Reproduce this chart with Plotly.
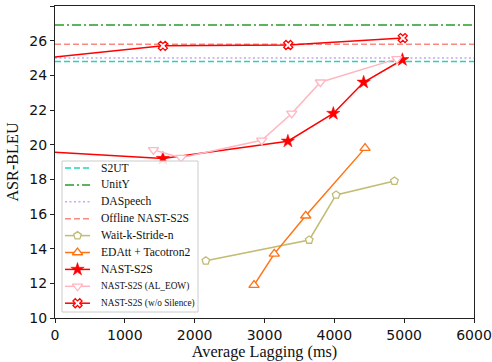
import plotly.graph_objects as go

# Reference (offline / non-streaming) baselines
s2ut_bleu = 24.8
unity_bleu = 26.9
daspeech_bleu = 25.0
offline_nast_bleu = 25.8

# Streaming systems
waitk_al = [2160, 3640, 4025, 4860]
waitk_bleu = [13.3, 14.5, 17.1, 17.9]

edatt_al = [2850, 3140, 3590, 4440]
edatt_bleu = [11.9, 13.7, 15.9, 19.8]

nast_al = [-400, 1545, 3335, 3985, 4420, 4975]
nast_bleu = [19.65, 19.2, 20.2, 21.8, 23.6, 24.9]

eow_al = [1410, 1805, 2960, 3390, 3800, 4895]
eow_bleu = [19.7, 19.25, 20.25, 21.8, 23.6, 24.95]

nosil_al = [-400, 1545, 3340, 4980]
nosil_bleu = [24.9, 25.7, 25.75, 26.15]

x_ticks = [0, 1000, 2000, 3000, 4000, 5000, 6000]
y_ticks = [10, 12, 14, 16, 18, 20, 22, 24, 26, 28]

x_range = [0, 6000]

SERIF = "Liberation Serif, Times New Roman, Times, serif"

# ---- styles ----
def line_style(color, dash="solid"):
    return dict(color=color, width=1.5, dash=dash)

series = [
    # name, x, y, line, marker, legend font size
    ("S2UT", x_range, [s2ut_bleu] * 2, line_style("#20d8b4", "6px,3px"), None, 11.6),
    ("UnitY", x_range, [unity_bleu] * 2, line_style("#2a9a2a", "9px,3px,2px,3px"), None, 11.6),
    ("DASpeech", x_range, [daspeech_bleu] * 2, line_style("#c9a6f5", "2px,2.5px"), None, 11.6),
    ("Offline NAST-S2S", x_range, [offline_nast_bleu] * 2, line_style("#fa8a80", "6px,3px"), None, 11.6),
    ("Wait-k-Stride-n", waitk_al, waitk_bleu, line_style("#c2bb72"),
     dict(symbol="pentagon", size=8, color="white", line=dict(color="#c2bb72", width=1.3)), 11.6),
    ("EDAtt + Tacotron2", edatt_al, edatt_bleu, line_style("#ff7315"),
     dict(symbol="triangle-up", size=9, color="white", line=dict(color="#ff7315", width=1.3)), 11.6),
    ("NAST-S2S", nast_al, nast_bleu, line_style("#ff0000"),
     dict(symbol="star", size=10, color="#ff0000", line=dict(color="#ff0000", width=0.5)), 11.6),
    ("NAST-S2S (AL_EOW)", eow_al, eow_bleu, line_style("#ffb6c1"),
     dict(symbol="triangle-down", size=9, color="white", line=dict(color="#ffb6c1", width=1.3)), 9.3),
    ("NAST-S2S (w/o Silence)", nosil_al, nosil_bleu, line_style("#ff0000"),
     dict(symbol="x", size=8, color="white", line=dict(color="#ff0000", width=1.3)), 9.3),
]

fig = go.Figure()

# data traces
for name, xs, ys, ln, mk, _ in series:
    fig.add_trace(go.Scatter(x=xs, y=ys, mode="lines+markers" if mk else "lines",
                             name=name, line=ln, marker=mk, showlegend=False,
                             xaxis="x", yaxis="y"))

# ---- legend drawn on an overlay axis measured in page pixels ----
PLOT_L, PLOT_R, PLOT_T, PLOT_B = 55, 474, 6, 318
BOX_L, BOX_R, BOX_T, BOX_B = 62, 198, 161, 312
ROW0, ROW_STEP = 168, 16.9
H_L, H_R, TXT_X = 65, 90, 98.5

fig.add_trace(go.Scatter(x=[BOX_L, BOX_R, BOX_R, BOX_L, BOX_L],
                         y=[BOX_T, BOX_T, BOX_B, BOX_B, BOX_T],
                         mode="lines", fill="toself", fillcolor="rgba(255,255,255,0.85)",
                         line=dict(color="#cccccc", width=1), hoverinfo="skip",
                         showlegend=False, xaxis="x2", yaxis="y2"))

annotations = []
for i, (name, xs, ys, ln, mk, fsize) in enumerate(series):
    yc = ROW0 + i * ROW_STEP
    fig.add_trace(go.Scatter(x=[H_L, H_R], y=[yc, yc], mode="lines", line=ln,
                             hoverinfo="skip", showlegend=False, xaxis="x2", yaxis="y2"))
    if mk:
        fig.add_trace(go.Scatter(x=[(H_L + H_R) / 2], y=[yc], mode="markers", marker=mk,
                                 hoverinfo="skip", showlegend=False, xaxis="x2", yaxis="y2"))
    annotations.append(dict(x=TXT_X, y=yc, xref="x2", yref="y2", text=name,
                            showarrow=False, xanchor="left", yanchor="middle",
                            font=dict(family=SERIF, size=fsize, color="#111")))

axis_common = dict(showgrid=False, zeroline=False, showline=True, linecolor="#222",
                   linewidth=1, mirror=True, ticks="outside", ticklen=4, tickwidth=1,
                   tickcolor="#222", automargin=False,
                   tickfont=dict(family="DejaVu Sans", size=14, color="#111"))

fig.update_layout(
    width=492, height=362,
    margin=dict(l=PLOT_L, r=492 - PLOT_R, t=PLOT_T, b=362 - PLOT_B),
    paper_bgcolor="white", plot_bgcolor="white",
    showlegend=False,
    annotations=annotations,
    xaxis=dict(range=x_range, tickvals=x_ticks,
               title=dict(text="Average Lagging (ms)", standoff=3,
                          font=dict(family=SERIF, size=16.2, color="#111")),
               **axis_common),
    yaxis=dict(range=[10, 28], tickvals=y_ticks,
               title=dict(text="ASR-BLEU", standoff=6,
                          font=dict(family=SERIF, size=16.2, color="#111")),
               **axis_common),
    xaxis2=dict(overlaying="x", anchor="y2", range=[PLOT_L, PLOT_R], visible=False,
                fixedrange=True),
    yaxis2=dict(overlaying="y", anchor="x2", range=[PLOT_B, PLOT_T], visible=False,
                fixedrange=True),
)

fig.write_html("out.html", config={"displayModeBar": False},
               post_script="document.body.style.margin='0';document.body.style.padding='0';")
